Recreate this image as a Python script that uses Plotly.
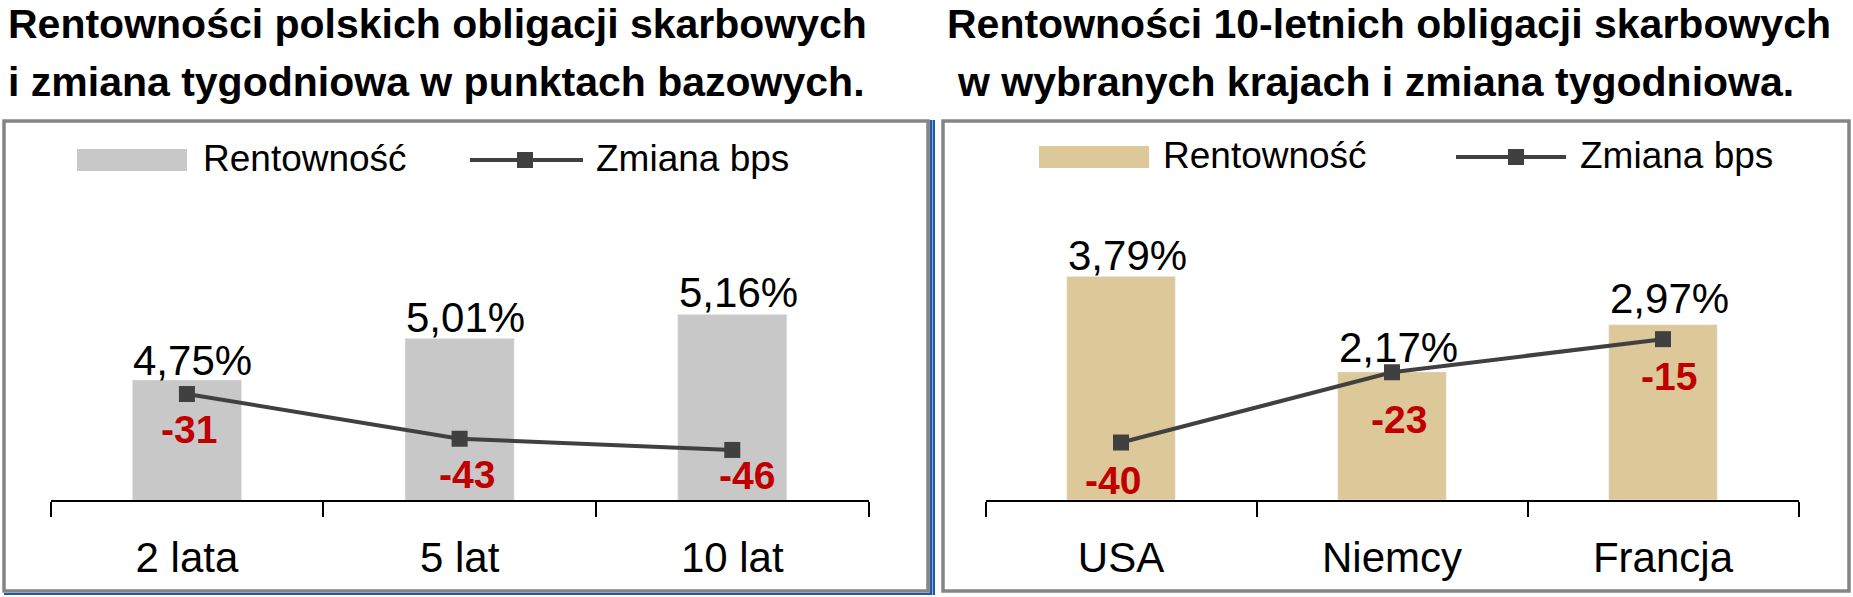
import plotly.graph_objects as go

# ---------------- data ----------------
pl_categories = ["2 lata", "5 lat", "10 lat"]
pl_yield = [4.75, 5.01, 5.16]
pl_change_bps = [-31, -43, -46]

world_categories = ["USA", "Niemcy", "Francja"]
world_yield = [3.79, 2.17, 2.97]
world_change_bps = [-40, -23, -15]

title_left = ["Rentowności polskich obligacji skarbowych",
              "i zmiana tygodniowa w punktach bazowych."]
title_right = ["Rentowności 10-letnich obligacji skarbowych",
               "w wybranych krajach i zmiana tygodniowa."]
legend_labels = ["Rentowność", "Zmiana bps"]

# ---------------- style ----------------
W, H = 1853, 597
FONT = "Liberation Sans"
GREY_BAR = "#c8c8c8"
TAN_BAR = "#dcc898"
LINE_COL = "#404040"
RED = "#c00000"
BORDER = "#858585"
BLUE = "#1f5aa6"


def X(px):
    return px / W


def Y(py):
    return 1 - py / H


fig = go.Figure()

# left chart
fig.add_trace(go.Bar(x=pl_categories, y=pl_yield, width=0.4, marker_color=GREY_BAR,
                     xaxis="x", yaxis="y", showlegend=False, hoverinfo="skip"))
fig.add_trace(go.Scatter(x=pl_categories, y=pl_change_bps, mode="lines+markers",
                         line=dict(color=LINE_COL, width=4),
                         marker=dict(symbol="square", size=16, color=LINE_COL),
                         xaxis="x", yaxis="y2", showlegend=False, hoverinfo="skip"))
# right chart
fig.add_trace(go.Bar(x=world_categories, y=world_yield, width=0.4, marker_color=TAN_BAR,
                     xaxis="x2", yaxis="y3", showlegend=False, hoverinfo="skip"))
fig.add_trace(go.Scatter(x=world_categories, y=world_change_bps, mode="lines+markers",
                         line=dict(color=LINE_COL, width=4),
                         marker=dict(symbol="square", size=16, color=LINE_COL),
                         xaxis="x2", yaxis="y4", showlegend=False, hoverinfo="skip"))

ydom = [Y(500), Y(180)]
xaxis_common = dict(type="category", range=[-0.5, 2.5], tickson="boundaries",
                    ticks="outside", ticklen=15, tickwidth=1.5, tickcolor="black",
                    showline=True, linecolor="black", linewidth=1.5, showgrid=False,
                    zeroline=False, fixedrange=True, ticklabelstandoff=20,
                    tickfont=dict(family=FONT, size=42, color="black"))

fig.update_layout(
    width=W, height=H, margin=dict(l=0, r=0, t=0, b=0),
    paper_bgcolor="white", plot_bgcolor="rgba(0,0,0,0)",
    font=dict(family=FONT, color="black"),
    showlegend=False,
    xaxis=dict(domain=[X(50.6), X(868.6)], anchor="y", **xaxis_common),
    yaxis=dict(domain=ydom, range=[4, 6], visible=False, fixedrange=True),
    yaxis2=dict(overlaying="y", range=[-59.4, 26.3], visible=False, fixedrange=True),
    xaxis2=dict(domain=[X(985.5), X(1798.5)], anchor="y3", **xaxis_common),
    yaxis3=dict(domain=ydom, range=[0, 5.424], visible=False, fixedrange=True),
    yaxis4=dict(overlaying="y3", range=[-53.9, 23.5], visible=False, fixedrange=True),
)

annotations = []
shapes = []

# titles
for i, (txt, px, py) in enumerate([(title_left[0], 6, 24), (title_left[1], 6, 82),
                                    (title_right[0], 945, 24), (title_right[1], 955, 82)]):
    annotations.append(dict(text="<b>%s</b>" % txt, x=X(px), y=Y(py), xref="paper", yref="paper",
                            xanchor="left", yanchor="middle", showarrow=False,
                            font=dict(family=FONT, size=41, color="black")))

# panel frames
shapes.append(dict(type="line", xref="paper", yref="paper", x0=X(931), x1=X(931), y0=Y(120), y1=Y(595),
                   line=dict(color=BLUE, width=3)))
shapes.append(dict(type="line", xref="paper", yref="paper", x0=X(4), x1=X(932), y0=Y(594), y1=Y(594),
                   line=dict(color=BLUE, width=2)))
shapes.append(dict(type="line", xref="paper", yref="paper", x0=X(934), x1=X(934), y0=Y(120), y1=Y(595),
                   line=dict(color=BLUE, width=2)))
for (x0, x1) in [(4, 928), (943, 1849)]:
    shapes.append(dict(type="rect", xref="paper", yref="paper", x0=X(x0), x1=X(x1), y0=Y(591), y1=Y(121),
                       line=dict(color=BORDER, width=3.5), fillcolor="rgba(0,0,0,0)"))

# legends (drawn manually)
for (rx0, ly, bar_col, tx1, lx0, lx1, mx, tx2) in [
        (77, 160, GREY_BAR, 201, 470, 583, 525, 594),
        (1039, 157, TAN_BAR, 1161, 1456, 1566, 1516, 1578)]:
    shapes.append(dict(type="rect", xref="paper", yref="paper", x0=X(rx0), x1=X(rx0 + 110),
                       y0=Y(ly + 11), y1=Y(ly - 11), line=dict(width=0), fillcolor=bar_col))
    shapes.append(dict(type="line", xref="paper", yref="paper", x0=X(lx0), x1=X(lx1), y0=Y(ly), y1=Y(ly),
                       line=dict(color=LINE_COL, width=4)))
    shapes.append(dict(type="rect", xref="paper", yref="paper", x0=X(mx - 8), x1=X(mx + 8),
                       y0=Y(ly + 8), y1=Y(ly - 8), line=dict(width=0), fillcolor=LINE_COL))
    for txt, tx in [(legend_labels[0], tx1), (legend_labels[1], tx2)]:
        annotations.append(dict(text=txt, x=X(tx), y=Y(ly - 2), xref="paper", yref="paper",
                                xanchor="left", yanchor="middle", showarrow=False,
                                font=dict(family=FONT, size=37, color="black")))


def pct(v):
    return ("%.2f" % v).replace(".", ",") + "%"


# value labels (offsets in pixels)
yield_label_yshift_left = [-6, -5, -4]
yield_label_yshift_right = [-5, -1, 1]
chg_shift_left = [(2, -12), (7, -12), (15, -2)]
chg_shift_right = [(-8, -14), (7, -24), (6, -14)]

for cats, vals, chg, xr, yr, yr2, ysh, csh in [
        (pl_categories, pl_yield, pl_change_bps, "x", "y", "y2", yield_label_yshift_left, chg_shift_left),
        (world_categories, world_yield, world_change_bps, "x2", "y3", "y4", yield_label_yshift_right, chg_shift_right)]:
    for c, v, d, ys, (cx, cy) in zip(cats, vals, chg, ysh, csh):
        annotations.append(dict(text=pct(v), x=c, y=v, xref=xr, yref=yr, xanchor="center",
                                yanchor="bottom", xshift=6, yshift=ys, showarrow=False,
                                font=dict(family=FONT, size=42, color="black")))
        annotations.append(dict(text="<b>%d</b>" % d, x=c, y=d, xref=xr, yref=yr2, xanchor="center",
                                yanchor="top", xshift=cx, yshift=cy, showarrow=False,
                                font=dict(family=FONT, size=39, color=RED)))

fig.update_layout(annotations=annotations, shapes=shapes)
fig.write_html("out.html")
